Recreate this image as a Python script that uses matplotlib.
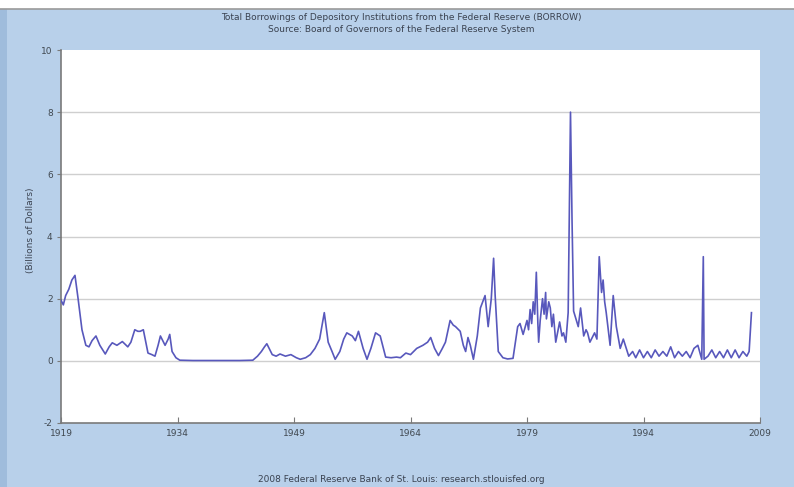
import matplotlib
matplotlib.use("Agg")
import matplotlib.pyplot as plt
from matplotlib.patches import Rectangle
from matplotlib.lines import Line2D

title_line1 = "Total Borrowings of Depository Institutions from the Federal Reserve (BORROW)"
title_line2 = "Source: Board of Governors of the Federal Reserve System"
footer = "2008 Federal Reserve Bank of St. Louis: research.stlouisfed.org"
y_label = "(Billions of Dollars)"
x_ticks = [1919, 1934, 1949, 1964, 1979, 1994, 2009]
y_ticks = [-2, 0, 2, 4, 6, 8, 10]

years = [
    1919.0, 1919.3, 1919.6, 1920.0, 1920.4, 1920.8, 1921.2, 1921.7, 1922.2, 1922.6,
    1923.0, 1923.5, 1924.0, 1924.7, 1925.2, 1925.6, 1926.2, 1926.9, 1927.6, 1928.0,
    1928.5, 1928.9, 1929.2, 1929.6, 1930.2, 1930.7, 1931.1, 1931.5, 1931.8, 1932.4,
    1932.8, 1933.0, 1933.3, 1933.8, 1934.3, 1936.0, 1938.0, 1940.0, 1942.0, 1943.7,
    1944.3, 1944.8, 1945.2, 1945.5, 1945.8, 1946.2, 1946.7, 1947.2, 1947.9, 1948.6,
    1949.3, 1949.8, 1950.5, 1951.1, 1951.7, 1952.3, 1952.9, 1953.4, 1953.9, 1954.3,
    1954.9, 1955.4, 1955.8, 1956.5, 1956.9, 1957.3, 1957.9, 1958.4, 1958.9, 1959.5,
    1960.1, 1960.8, 1961.5, 1962.2, 1962.7, 1963.4, 1964.0, 1964.8, 1965.6, 1966.2,
    1966.6, 1967.1, 1967.6, 1968.1, 1968.5, 1969.1, 1969.5, 1969.8, 1970.4, 1970.8,
    1971.1, 1971.4, 1971.7, 1972.1, 1972.6, 1973.0, 1973.6, 1974.0, 1974.4, 1974.7,
    1974.9, 1975.3, 1975.9, 1976.5, 1977.2, 1977.8, 1978.1, 1978.5, 1979.0, 1979.2,
    1979.4, 1979.6, 1979.8, 1980.0, 1980.2, 1980.4, 1980.5, 1980.7, 1981.0, 1981.2,
    1981.4, 1981.5, 1981.8, 1982.0, 1982.2, 1982.4, 1982.7, 1983.0, 1983.2, 1983.5,
    1983.7, 1984.0, 1984.3, 1984.6, 1984.8, 1985.0, 1985.3, 1985.6, 1985.9, 1986.3,
    1986.6, 1986.8, 1987.1, 1987.3, 1987.7, 1988.0, 1988.3, 1988.6, 1988.8, 1989.0,
    1989.2, 1989.7, 1990.1, 1990.5, 1991.0, 1991.4, 1992.1, 1992.6, 1993.0, 1993.5,
    1994.0, 1994.5, 1995.0, 1995.5, 1996.0, 1996.5, 1997.0, 1997.5, 1998.0, 1998.5,
    1999.0, 1999.5, 2000.0, 2000.5, 2001.0, 2001.5, 2001.7, 2001.8, 2002.3, 2002.8,
    2003.3, 2003.8, 2004.3, 2004.8, 2005.3, 2005.8, 2006.3, 2006.8, 2007.3, 2007.6,
    2007.9,
]
borrowings = [
    1.95, 1.8, 2.1, 2.3, 2.6, 2.75, 2.0, 1.0, 0.5, 0.45,
    0.65, 0.8, 0.5, 0.22, 0.45, 0.58, 0.5, 0.62, 0.45, 0.6,
    1.0, 0.95, 0.95, 1.0, 0.25, 0.2, 0.15, 0.5, 0.8, 0.5,
    0.7, 0.85, 0.3, 0.1, 0.02, 0.01, 0.01, 0.01, 0.01, 0.02,
    0.15, 0.3, 0.45, 0.55, 0.4, 0.2, 0.15, 0.22, 0.15, 0.2,
    0.1, 0.05, 0.1, 0.2, 0.4, 0.7, 1.55, 0.6, 0.3, 0.05,
    0.3, 0.7, 0.9, 0.8, 0.65, 0.95, 0.4, 0.05, 0.4, 0.9,
    0.8, 0.12, 0.1, 0.12, 0.1, 0.25, 0.2, 0.4, 0.5, 0.6,
    0.75, 0.4, 0.17, 0.4, 0.6, 1.3, 1.15, 1.1, 0.95, 0.5,
    0.3, 0.75, 0.5, 0.05, 0.8, 1.7, 2.1, 1.1, 2.0, 3.3,
    2.1, 0.3, 0.1, 0.06, 0.08, 1.1, 1.2, 0.85, 1.3, 1.0,
    1.65, 1.2, 1.9, 1.5, 2.85, 1.2, 0.6, 1.3, 2.0, 1.5,
    2.2, 1.35, 1.9, 1.7, 1.1, 1.5, 0.6, 1.0, 1.25, 0.8,
    0.9, 0.6, 1.55, 8.0, 4.5, 1.6, 1.35, 1.1, 1.7, 0.8,
    1.0, 0.9, 0.6, 0.7, 0.9, 0.7, 3.35, 2.2, 2.6, 1.9,
    1.55, 0.5, 2.1, 1.1, 0.4, 0.7, 0.15, 0.3, 0.1, 0.35,
    0.1, 0.3, 0.1, 0.35, 0.15, 0.3, 0.15, 0.45, 0.1, 0.3,
    0.15, 0.3, 0.1, 0.4, 0.5, 0.05, 3.35, 0.05, 0.15, 0.35,
    0.1, 0.3, 0.1, 0.35, 0.1, 0.35, 0.1, 0.3, 0.15, 0.3,
    1.55,
]

W, H = 794, 487
bg_blue = "#b8d0ea"
fig = plt.figure(figsize=(W / 100, H / 100), dpi=100)
fig.patch.set_facecolor(bg_blue)

# white strip on top, darker band on left, grey separator line
fig.patches.append(Rectangle((0, 1 - 9 / H), 1, 9 / H, transform=fig.transFigure,
                             facecolor="white", edgecolor="none", zorder=-5))
fig.patches.append(Rectangle((0, 0), 7 / W, 1 - 9 / H, transform=fig.transFigure,
                             facecolor="#9fbcdc", edgecolor="none", zorder=-5))
fig.lines.append(Line2D([0, 1], [1 - 9 / H, 1 - 9 / H], transform=fig.transFigure,
                        color="#9a9a9a", linewidth=1.2, zorder=-4))

ax = fig.add_axes([61 / W, 1 - 423 / H, (760 - 61) / W, (423 - 50) / H])
ax.set_facecolor("white")
ax.plot(years, borrowings, color="#5858bc", linewidth=1.2, zorder=3)

ax.set_xlim(1919, 2009)
ax.set_ylim(-2, 10)
ax.set_xticks(x_ticks)
ax.set_xticklabels([str(t) for t in x_ticks])
ax.set_yticks(y_ticks)
ax.set_yticklabels([str(t) for t in y_ticks])
for yv in y_ticks[1:-1]:
    ax.axhline(yv, color="#cfcfcf", linewidth=1.0, zorder=1)

for s in ["top", "right"]:
    ax.spines[s].set_visible(False)
for s in ["left", "bottom"]:
    ax.spines[s].set_color("#7a7a7a")
    ax.spines[s].set_linewidth(1.2)
ax.tick_params(axis="x", direction="in", length=4, color="#7a7a7a",
               labelsize=6.5, labelcolor="#404850", pad=4)
ax.tick_params(axis="y", direction="out", length=3, color="#7a7a7a",
               labelsize=6.5, labelcolor="#404850", pad=3)

fig.text(0.505, 1 - 17 / H, title_line1, ha="center", va="center",
         fontsize=6.5, color="#3a4250")
fig.text(0.505, 1 - 30 / H, title_line2, ha="center", va="center",
         fontsize=6.5, color="#3a4250")
fig.text(0.505, 1 - 480 / H, footer, ha="center", va="center",
         fontsize=6.5, color="#3a4250")
fig.text(30 / W, 1 - 230 / H, y_label, ha="center", va="center",
         rotation=90, fontsize=6.5, color="#3a4250")

fig.savefig("out.png", dpi=100, facecolor=fig.get_facecolor())
